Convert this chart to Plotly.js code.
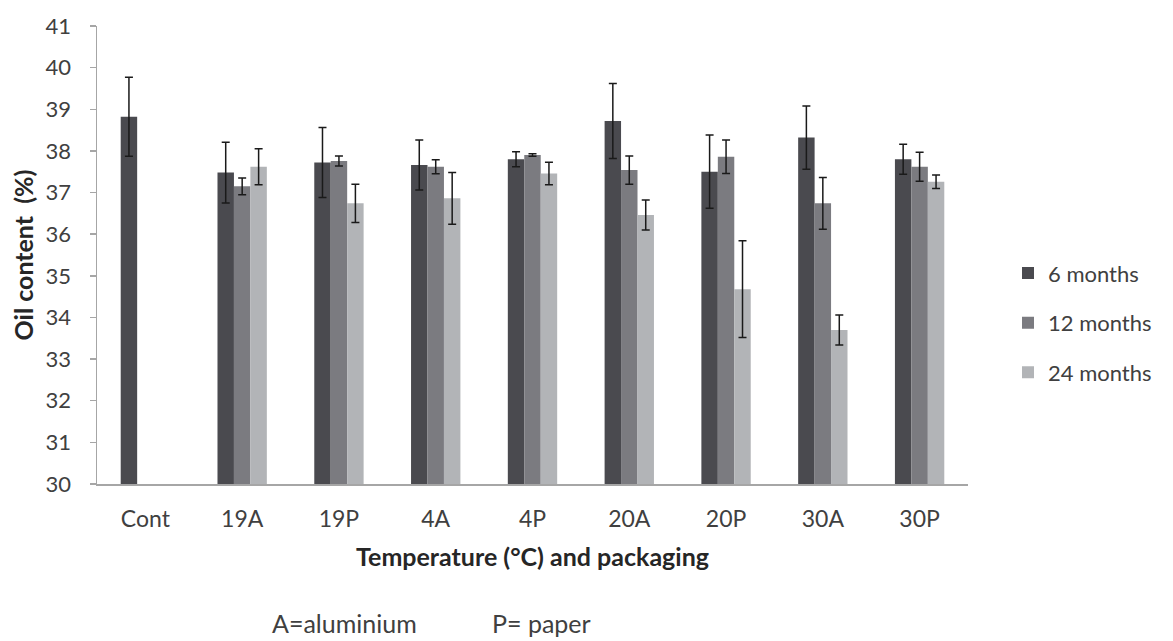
<!DOCTYPE html>
<html>
<head>
<meta charset="utf-8">
<script src="https://cdn.plot.ly/plotly-3.0.1.min.js"></script>
<style>html,body{margin:0;padding:0;background:#fff;}#chart{width:1173px;height:641px;}</style>
</head>
<body>
<div id="chart"></div>
<script>
const categories = ['Cont','19A','19P','4A','4P','20A','20P','30A','30P'];
const seriesNames = ['6 months','12 months','24 months'];
const months6 = [38.82, 37.48, 37.72, 37.66, 37.80, 38.72, 37.50, 38.32, 37.80];
const months6Err = [0.95, 0.73, 0.84, 0.60, 0.18, 0.90, 0.88, 0.76, 0.36];
const months12 = [null, 37.15, 37.76, 37.62, 37.90, 37.54, 37.86, 36.74, 37.62];
const months12Err = [null, 0.20, 0.12, 0.17, 0.03, 0.34, 0.40, 0.62, 0.35];
const months24 = [null, 37.62, 36.74, 36.86, 37.46, 36.46, 34.68, 33.70, 37.26];
const months24Err = [null, 0.43, 0.46, 0.62, 0.27, 0.36, 1.16, 0.36, 0.16];
const yTicks = [30,31,32,33,34,35,36,37,38,39,40,41];

const colors = ['#4a4a4f', '#7b7b80', '#b2b4b7'];
const values = [months6, months12, months24];
const errs = [months6Err, months12Err, months24Err];

const FONT = 'Lato, "Open Sans", sans-serif';

const traces = values.map((v, i) => ({
  type: 'bar',
  name: seriesNames[i],
  x: categories,
  y: v,
  legendgroup: 'g' + i,
  marker: {color: colors[i], line: {width: 0}},
  error_y: {type: 'data', array: errs[i], visible: true, color: '#1a1a1a', thickness: 1.5, width: 4}
}));

const L = 97, R = 968;
const px = p => (p - L) / (R - L);

const layout = {
  width: 1173, height: 641,
  margin: {l: 97, r: 205, t: 26, b: 157},
  paper_bgcolor: '#fff', plot_bgcolor: '#fff',
  barmode: 'group', bargap: 0.49, bargroupgap: 0,
  font: {family: FONT, color: '#404040', size: 21},
  showlegend: true,
  legend: {
    x: px(1008), xanchor: 'left', y: 0.352, yanchor: 'middle',
    font: {family: FONT, size: 22, color: '#404040'},
    tracegroupgap: 18, itemwidth: 30,
    bgcolor: 'rgba(0,0,0,0)'
  },
  xaxis: {
    type: 'category',
    showline: true, linecolor: '#a6a6a6', linewidth: 1.5,
    ticks: '', showgrid: false, zeroline: false,
    tickfont: {family: FONT, size: 23, color: '#404040'},
    ticklabelstandoff: 14,
    title: {text: 'Temperature (°C) and packaging', font: {family: FONT, size: 25, color: '#262626', weight: 'bold'}, standoff: 17}
  },
  yaxis: {
    range: [30, 41], tickvals: yTicks, ticktext: yTicks.map(String),
    showline: true, linecolor: '#a6a6a6', linewidth: 1.5,
    ticks: 'outside', ticklen: 6, tickcolor: '#a6a6a6', tickwidth: 1.5,
    showgrid: false, zeroline: false,
    tickfont: {family: FONT, size: 22, color: '#404040'},
    ticklabelstandoff: 14,
    title: {text: 'Oil content  (%)', font: {family: FONT, size: 25, color: '#262626', weight: 'bold'}, standoff: 5}
  },
  annotations: [
    {xref: 'paper', yref: 'paper', x: px(270), y: -(623 - 484) / 458, xanchor: 'left', yanchor: 'middle',
     text: 'A=aluminium', showarrow: false, font: {family: FONT, size: 25, color: '#404040'}},
    {xref: 'paper', yref: 'paper', x: px(490), y: -(623 - 484) / 458, xanchor: 'left', yanchor: 'middle',
     text: 'P= paper', showarrow: false, font: {family: FONT, size: 25, color: '#404040'}}
  ]
};

Plotly.newPlot('chart', traces, layout, {displayModeBar: false, staticPlot: true});
</script>
</body>
</html>
